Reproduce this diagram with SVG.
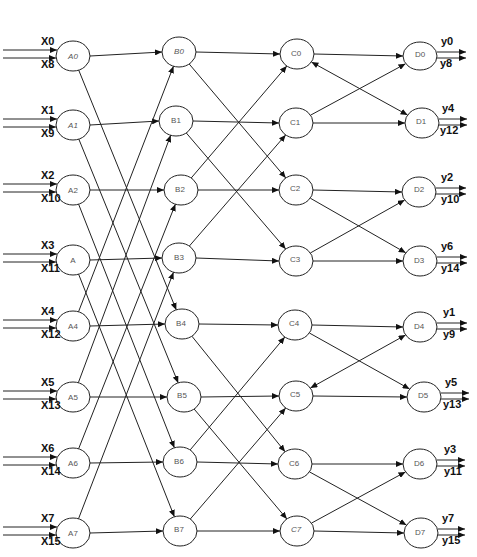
<svg xmlns="http://www.w3.org/2000/svg" width="477" height="557" viewBox="0 0 477 557">
<defs>
<marker id="ah" markerUnits="userSpaceOnUse" markerWidth="8" markerHeight="6" refX="7" refY="3" orient="auto">
<path d="M0,0 L7,3 L0,6 z" fill="#111"/>
</marker>
<marker id="as" markerUnits="userSpaceOnUse" markerWidth="8" markerHeight="6" refX="0" refY="3" orient="auto">
<path d="M7,0 L0,3 L7,6 z" fill="#111"/>
</marker>
<style>
.n ellipse{fill:#fff;stroke:#222;stroke-width:1}
.n text{font-family:"Liberation Sans",Arial,sans-serif;font-size:8px;fill:#555;text-anchor:middle;dominant-baseline:central}
.it{font-style:italic}
#edges line{stroke:#222;stroke-width:1;marker-end:url(#ah)}
.lb{font-family:"Liberation Sans",Arial,sans-serif;font-size:11px;font-weight:bold;fill:#111}
</style>
</defs>
<rect width="477" height="557" fill="#fff"/>
<g id="edges">
<!-- inputs -->
<line x1="3" y1="50" x2="57" y2="50"/><line x1="3" y1="58" x2="56" y2="58"/>
<line x1="3" y1="119" x2="57" y2="119"/><line x1="3" y1="127" x2="56" y2="127"/>
<line x1="3" y1="184" x2="57" y2="184"/><line x1="3" y1="192" x2="56" y2="192"/>
<line x1="3" y1="254" x2="57" y2="254"/><line x1="3" y1="262" x2="56" y2="262"/>
<line x1="3" y1="320" x2="57" y2="320"/><line x1="3" y1="328" x2="56" y2="328"/>
<line x1="3" y1="391" x2="57" y2="391"/><line x1="3" y1="399" x2="56" y2="399"/>
<line x1="3" y1="457" x2="57" y2="457"/><line x1="3" y1="465" x2="56" y2="465"/>
<line x1="3" y1="527" x2="57" y2="527"/><line x1="3" y1="535" x2="56" y2="535"/>
<!-- A to B horizontal -->
<line x1="90" y1="56" x2="162" y2="52"/>
<line x1="90" y1="125" x2="159" y2="121"/>
<line x1="90" y1="190" x2="164" y2="190"/>
<line x1="90" y1="260" x2="162" y2="258"/>
<line x1="90" y1="326" x2="165" y2="324"/>
<line x1="90" y1="397" x2="167" y2="397"/>
<line x1="90" y1="463" x2="163" y2="462"/>
<line x1="90" y1="533" x2="163" y2="531"/>
<!-- A to B diagonal -->
<line x1="78.7" y1="70.1" x2="176.3" y2="309.9"/>
<line x1="78.8" y1="139.1" x2="178.2" y2="382.9"/>
<line x1="78.6" y1="204.2" x2="174.4" y2="447.8"/>
<line x1="78.6" y1="274.2" x2="174.4" y2="516.8"/>
<line x1="78.5" y1="311.8" x2="173.5" y2="66.2"/>
<line x1="78.3" y1="382.8" x2="170.7" y2="135.2"/>
<line x1="78.6" y1="448.8" x2="175.4" y2="204.2"/>
<line x1="78.5" y1="518.8" x2="173.5" y2="272.2"/>
<!-- B to C horizontal -->
<line x1="196" y1="52" x2="280" y2="54"/>
<line x1="193" y1="121" x2="279" y2="123"/>
<line x1="198" y1="190" x2="279" y2="190"/>
<line x1="196" y1="258" x2="279" y2="261"/>
<line x1="199" y1="324" x2="278" y2="325"/>
<line x1="201" y1="397" x2="279" y2="396"/>
<line x1="197" y1="462" x2="278" y2="464"/>
<line x1="197" y1="531" x2="280" y2="531"/>
<!-- B to C diagonal -->
<line x1="189.2" y1="64" x2="285.8" y2="178"/>
<line x1="186.3" y1="133" x2="285.7" y2="249"/>
<line x1="191.2" y1="178" x2="286.8" y2="66"/>
<line x1="189.3" y1="246.1" x2="285.7" y2="134.9"/>
<line x1="191.9" y1="336.2" x2="285.1" y2="451.8"/>
<line x1="194.1" y1="409" x2="286.9" y2="519"/>
<line x1="190.2" y1="449.9" x2="284.8" y2="337.1"/>
<line x1="190.3" y1="519" x2="285.7" y2="408"/>
<!-- C to D horizontal -->
<line x1="314" y1="54" x2="403" y2="56"/>
<line x1="313" y1="123" x2="405" y2="123"/>
<line x1="313" y1="190" x2="402" y2="192"/>
<line x1="313" y1="261" x2="403" y2="261"/>
<line x1="312" y1="325" x2="403" y2="327"/>
<line x1="313" y1="396" x2="407" y2="397"/>
<line x1="312" y1="464" x2="403" y2="464"/>
<line x1="314" y1="531" x2="404" y2="533"/>
<!-- C to D diagonal -->
<line x1="311.4" y1="62" x2="407.6" y2="115" marker-start="url(#as)"/>
<line x1="310.5" y1="115.2" x2="405.5" y2="63.8"/>
<line x1="310.3" y1="198.2" x2="405.7" y2="252.8"/>
<line x1="310.3" y1="253" x2="404.7" y2="200"/>
<line x1="309.4" y1="333" x2="409.6" y2="389"/>
<line x1="310.4" y1="388" x2="405.6" y2="335" marker-start="url(#as)"/>
<line x1="309.5" y1="471.9" x2="406.5" y2="525.1"/>
<line x1="311.5" y1="523.1" x2="405.5" y2="471.9"/>
<!-- outputs -->
<line x1="437" y1="52" x2="466" y2="52"/><line x1="437" y1="58" x2="466" y2="58"/>
<line x1="439" y1="119" x2="467" y2="119"/><line x1="439" y1="125" x2="467" y2="125"/>
<line x1="436" y1="188" x2="466" y2="188"/><line x1="436" y1="194" x2="466" y2="194"/>
<line x1="437" y1="257" x2="467" y2="257"/><line x1="437" y1="263" x2="467" y2="263"/>
<line x1="437" y1="323" x2="467" y2="323"/><line x1="437" y1="329" x2="467" y2="329"/>
<line x1="441" y1="393" x2="469" y2="393"/><line x1="441" y1="399" x2="469" y2="399"/>
<line x1="437" y1="460" x2="465" y2="460"/><line x1="437" y1="466" x2="465" y2="466"/>
<line x1="438" y1="529" x2="465" y2="529"/><line x1="438" y1="535" x2="465" y2="535"/>
</g>
<g id="A0" class="n"><ellipse cx="73" cy="56" rx="17" ry="15"/><text class="it" x="73" y="56">A0</text></g>
<g id="A1" class="n"><ellipse cx="73" cy="125" rx="17" ry="15"/><text class="it" x="73" y="125">A1</text></g>
<g id="A2" class="n"><ellipse cx="73" cy="190" rx="17" ry="15"/><text x="73" y="190">A2</text></g>
<g id="A3" class="n"><ellipse cx="73" cy="260" rx="17" ry="15"/><text x="73" y="260">A</text></g>
<g id="A4" class="n"><ellipse cx="73" cy="326" rx="17" ry="15"/><text x="73" y="326">A4</text></g>
<g id="A5" class="n"><ellipse cx="73" cy="397" rx="17" ry="15"/><text x="73" y="397">A5</text></g>
<g id="A6" class="n"><ellipse cx="73" cy="463" rx="17" ry="15"/><text x="73" y="463">A6</text></g>
<g id="A7" class="n"><ellipse cx="73" cy="533" rx="17" ry="15"/><text x="73" y="533">A7</text></g>
<g id="B0" class="n"><ellipse cx="179" cy="52" rx="17" ry="15"/><text class="it" x="179" y="51">B0</text></g>
<g id="B1" class="n"><ellipse cx="176" cy="121" rx="17" ry="15"/><text x="176" y="120">B1</text></g>
<g id="B2" class="n"><ellipse cx="181" cy="190" rx="17" ry="15"/><text x="180" y="189">B2</text></g>
<g id="B3" class="n"><ellipse cx="179" cy="258" rx="17" ry="15"/><text x="179" y="257">B3</text></g>
<g id="B4" class="n"><ellipse cx="182" cy="324" rx="17" ry="15"/><text x="181" y="323">B4</text></g>
<g id="B5" class="n"><ellipse cx="184" cy="397" rx="17" ry="15"/><text x="182" y="395">B5</text></g>
<g id="B6" class="n"><ellipse cx="180" cy="462" rx="17" ry="15"/><text x="179" y="461">B6</text></g>
<g id="B7" class="n"><ellipse cx="180" cy="531" rx="17" ry="15"/><text x="179" y="529">B7</text></g>
<g id="C0" class="n"><ellipse cx="297" cy="54" rx="17" ry="15"/><text x="296" y="53">C0</text></g>
<g id="C1" class="n"><ellipse cx="296" cy="123" rx="17" ry="15"/><text x="295" y="122">C1</text></g>
<g id="C2" class="n"><ellipse cx="296" cy="190" rx="17" ry="15"/><text x="295" y="188">C2</text></g>
<g id="C3" class="n"><ellipse cx="296" cy="261" rx="17" ry="15"/><text x="295" y="259">C3</text></g>
<g id="C4" class="n"><ellipse cx="295" cy="325" rx="17" ry="15"/><text x="294" y="323">C4</text></g>
<g id="C5" class="n"><ellipse cx="296" cy="396" rx="17" ry="15"/><text x="295" y="394">C5</text></g>
<g id="C6" class="n"><ellipse cx="295" cy="464" rx="17" ry="15"/><text x="294" y="463">C6</text></g>
<g id="C7" class="n"><ellipse cx="297" cy="531" rx="17" ry="15"/><text class="it" x="296" y="529">C7</text></g>
<g id="D0" class="n"><ellipse cx="420" cy="56" rx="17" ry="14"/><text x="420" y="54">D0</text></g>
<g id="D1" class="n"><ellipse cx="422" cy="123" rx="17" ry="15"/><text x="421" y="121">D1</text></g>
<g id="D2" class="n"><ellipse cx="419" cy="192" rx="17" ry="15"/><text x="419" y="189">D2</text></g>
<g id="D3" class="n"><ellipse cx="420" cy="261" rx="17" ry="15"/><text x="419" y="260">D3</text></g>
<g id="D4" class="n"><ellipse cx="420" cy="327" rx="17" ry="15"/><text x="419" y="326">D4</text></g>
<g id="D5" class="n"><ellipse cx="424" cy="397" rx="17" ry="15"/><text x="423" y="395">D5</text></g>
<g id="D6" class="n"><ellipse cx="420" cy="464" rx="17" ry="15"/><text x="419" y="463">D6</text></g>
<g id="D7" class="n"><ellipse cx="421" cy="533" rx="17" ry="15"/><text x="420" y="532">D7</text></g>
<g id="labels">
<text class="lb" x="41" y="45">X0</text><text class="lb" x="41" y="68">X8</text>
<text class="lb" x="41" y="114">X1</text><text class="lb" x="41" y="137">X9</text>
<text class="lb" x="41" y="179">X2</text><text class="lb" x="41" y="202">X10</text>
<text class="lb" x="41" y="249">X3</text><text class="lb" x="41" y="272">X11</text>
<text class="lb" x="41" y="315">X4</text><text class="lb" x="41" y="338">X12</text>
<text class="lb" x="41" y="386">X5</text><text class="lb" x="41" y="409">X13</text>
<text class="lb" x="41" y="452">X6</text><text class="lb" x="41" y="475">X14</text>
<text class="lb" x="41" y="522">X7</text><text class="lb" x="41" y="545">X15</text>
<text class="lb" x="441" y="45">y0</text><text class="lb" x="440" y="67">y8</text>
<text class="lb" x="442" y="112">y4</text><text class="lb" x="440" y="134">y12</text>
<text class="lb" x="441" y="181">y2</text><text class="lb" x="441" y="203">y10</text>
<text class="lb" x="441" y="250">y6</text><text class="lb" x="441" y="272">y14</text>
<text class="lb" x="443" y="316">y1</text><text class="lb" x="443" y="338">y9</text>
<text class="lb" x="445" y="386">y5</text><text class="lb" x="443" y="408">y13</text>
<text class="lb" x="444" y="453">y3</text><text class="lb" x="444" y="475">y11</text>
<text class="lb" x="442" y="522">y7</text><text class="lb" x="442" y="544">y15</text>
</g>
</svg>
